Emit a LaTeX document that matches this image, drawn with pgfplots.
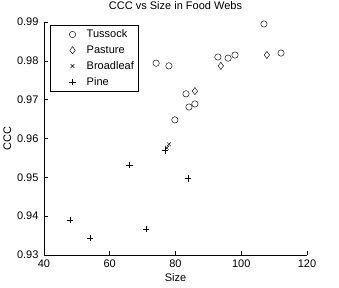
\documentclass[border=0pt]{standalone}
\usepackage{fontspec}
\setmainfont{Liberation Sans}
\usepackage{pgfplots}
\pgfplotsset{compat=1.18}
\begin{document}
\begin{tikzpicture}
\path[use as bounding box] (-44bp,-33bp) rectangle (295bp,255bp);
\begin{axis}[
  at={(0,0)}, anchor=south west,
  scale only axis, width=263bp, height=233bp,
  xmin=40, xmax=120, ymin=0.93, ymax=0.99,
  axis lines=left, axis line style={-, line width=0.5bp},
  tick align=inside, major tick length=4bp,
  tick style={line width=0.5bp, black},
  xtick={40,60,80,100,120},
  ytick={0.93,0.94,0.95,0.96,0.97,0.98,0.99},
  scaled y ticks=false,
  yticklabel style={/pgf/number format/fixed, /pgf/number format/precision=2, /pgf/number format/fixed zerofill, xshift=-2bp},
  xticklabel style={yshift=-1bp},
  /pgf/number format/assume math mode=true,
  font=\fontsize{11bp}{12bp}\selectfont,
  title={CCC vs Size in Food Webs},
  title style={at={(0.5,1)}, anchor=south, yshift=3bp},
  xlabel={Size}, ylabel={CCC},
  xlabel style={yshift=1bp},
  ylabel style={yshift=-1bp},
  legend style={at={(0.023,0.987)}, anchor=north west, draw=black, fill=white, line width=0.5bp,
    font=\fontsize{11bp}{12bp}\selectfont, row sep=2.5bp, inner xsep=2bp, inner ysep=2.5bp},
  legend cell align=left,
  legend image code/.code={\path (-20bp,0bp) (12bp,0bp); \draw[#1] plot coordinates {(0bp,0bp)};},
  every axis plot/.append style={only marks, black, line width=0.45bp},
]
\addplot[mark=o, mark size=3.2bp] coordinates {
(74.1,0.9794) (78.0,0.9787) (106.9,0.9895) (92.9,0.9810) (96.0,0.9807)
(98.1,0.9815) (112.1,0.9820) (83.2,0.9715) (84.1,0.9681) (85.9,0.9689) (79.8,0.9648)
};
\addlegendentry{Tussock}
\addplot[mark=diamond, mark size=3.6bp] coordinates {
(93.8,0.9787) (85.9,0.9722) (107.8,0.9815)
};
\addlegendentry{Pasture}
\addplot[mark=x, mark size=2.6bp] coordinates {
(77.4,0.9576) (78.0,0.9585)
};
\addlegendentry{Broadleaf}
\addplot[mark=+, mark size=3.4bp] coordinates {
(47.9,0.9390) (54.0,0.9344) (65.9,0.9532) (71.0,0.9367) (76.8,0.9570) (83.8,0.9498)
};
\addlegendentry{Pine}
\end{axis}
\end{tikzpicture}
\end{document}
